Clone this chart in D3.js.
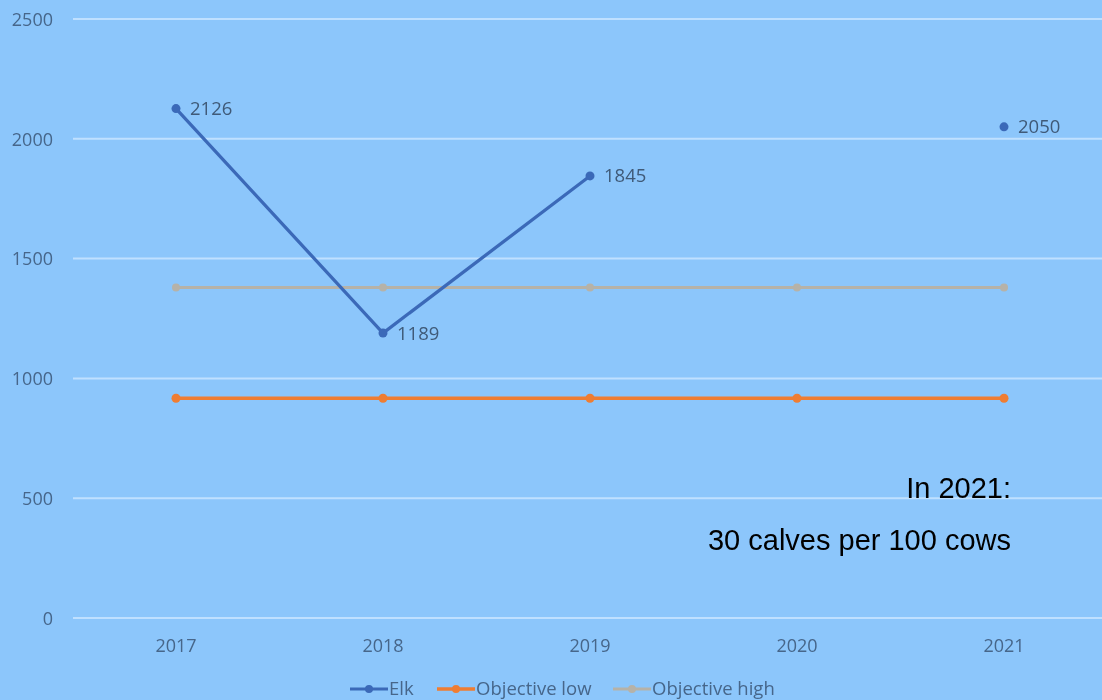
<!DOCTYPE html>
<html>
<head>
<meta charset="utf-8">
<script src="https://cdn.jsdelivr.net/npm/d3@7"></script>
<style>
  html, body { margin: 0; padding: 0; background: #8cc6fb; }
  svg { display: block; }
</style>
</head>
<body>
<svg id="chart" width="1102" height="700"></svg>
<script>
// Elk population counts against management objectives
const years = ["2017", "2018", "2019", "2020", "2021"];
const elk = [2126, 1189, 1845, null, 2050];
const objectiveLow = [917, 917, 917, 917, 917];
const objectiveHigh = [1379, 1379, 1379, 1379, 1379];
const yTicks = [0, 500, 1000, 1500, 2000, 2500];
const noteLines = ["In 2021:", "30 calves per 100 cows"];

const svg = d3.select("#chart");
const W = 1102, H = 700;

svg.append("rect").attr("width", W).attr("height", H).attr("fill", "#8cc6fb");

const x = d3.scaleBand().domain(years).range([72.5, 1107.5]);
const y = d3.scaleLinear().domain([0, 2500]).range([618, 19]);
const cx = d => x(d) + x.bandwidth() / 2;

const defs = svg.append("defs");
defs.append("filter").attr("id", "soft")
  .append("feGaussianBlur").attr("stdDeviation", 0.6);
const plot = svg.append("g").attr("filter", "url(#soft)");

const labelFont = "Open Sans, sans-serif";
const axisColor = "#46668a";

// horizontal gridlines
plot.append("g").selectAll("line").data(yTicks).join("line")
  .attr("x1", 73).attr("x2", W)
  .attr("y1", d => y(d)).attr("y2", d => y(d))
  .attr("stroke", "#bfe0ff").attr("stroke-width", 2);

// y axis labels
const yAxis = d3.axisLeft(y).tickValues(yTicks).tickSize(0).tickPadding(0).tickFormat(d3.format("d"));
const ya = plot.append("g").attr("transform", "translate(53,0)").call(yAxis);
ya.select(".domain").remove();
ya.selectAll("text").attr("fill", axisColor).attr("font-family", labelFont)
  .attr("font-size", 18).attr("dy", "0.35em");

// x axis labels
const xAxis = d3.axisBottom(x).tickSize(0).tickPadding(0);
const xa = plot.append("g").attr("transform", "translate(0,646)").call(xAxis);
xa.select(".domain").remove();
xa.selectAll("text").attr("fill", axisColor).attr("font-family", labelFont)
  .attr("font-size", 18).attr("dy", "0.35em");

const series = [
  { name: "Elk", values: elk, color: "#3b69b8", width: 3.2, r: 4.5, labels: true },
  { name: "Objective low", values: objectiveLow, color: "#ef7d33", width: 3.5, r: 4.5, labels: false },
  { name: "Objective high", values: objectiveHigh, color: "#b6b2a8", width: 3, r: 4, labels: false }
];

const line = d3.line()
  .defined(d => d.v != null)
  .x(d => cx(d.year)).y(d => y(d.v));

// draw in reverse so Elk sits on top
[...series].reverse().forEach(s => {
  const pts = years.map((yr, i) => ({ year: yr, v: s.values[i] }));
  const g = plot.append("g");
  g.append("path").datum(pts).attr("d", line)
    .attr("fill", "none").attr("stroke", s.color).attr("stroke-width", s.width)
    .attr("stroke-linejoin", "round");
  g.selectAll("circle").data(pts.filter(d => d.v != null)).join("circle")
    .attr("cx", d => cx(d.year)).attr("cy", d => y(d.v)).attr("r", s.r)
    .attr("fill", s.color);
  if (s.labels) {
    g.selectAll("text").data(pts.filter(d => d.v != null)).join("text")
      .attr("x", d => cx(d.year) + 14).attr("y", d => y(d.v))
      .attr("dy", "0.35em")
      .attr("fill", "#3f5a78").attr("font-family", labelFont).attr("font-size", 18.5)
      .text(d => d.v);
  }
});

// legend
const legendItems = [
  { s: series[0], x0: 350 },
  { s: series[1], x0: 437 },
  { s: series[2], x0: 613 }
];
const lg = plot.append("g");
legendItems.forEach(it => {
  const ly = 689;
  const len = 38;
  lg.append("line").attr("x1", it.x0).attr("x2", it.x0 + len).attr("y1", ly).attr("y2", ly)
    .attr("stroke", it.s.color).attr("stroke-width", it.s.width);
  lg.append("circle").attr("cx", it.x0 + len / 2).attr("cy", ly).attr("r", 4).attr("fill", it.s.color);
  lg.append("text").attr("x", it.x0 + len + 1).attr("y", ly).attr("dy", "0.35em")
    .attr("fill", axisColor).attr("font-family", labelFont).attr("font-size", 18.5)
    .text(it.s.name);
});

// annotation
svg.append("g").selectAll("text").data(noteLines).join("text")
  .attr("x", 1011).attr("y", (d, i) => 498 + i * 52)
  .attr("text-anchor", "end")
  .attr("fill", "#000").attr("font-family", "Liberation Sans, Arial, sans-serif")
  .attr("font-size", 29)
  .text(d => d);
</script>
</body>
</html>
